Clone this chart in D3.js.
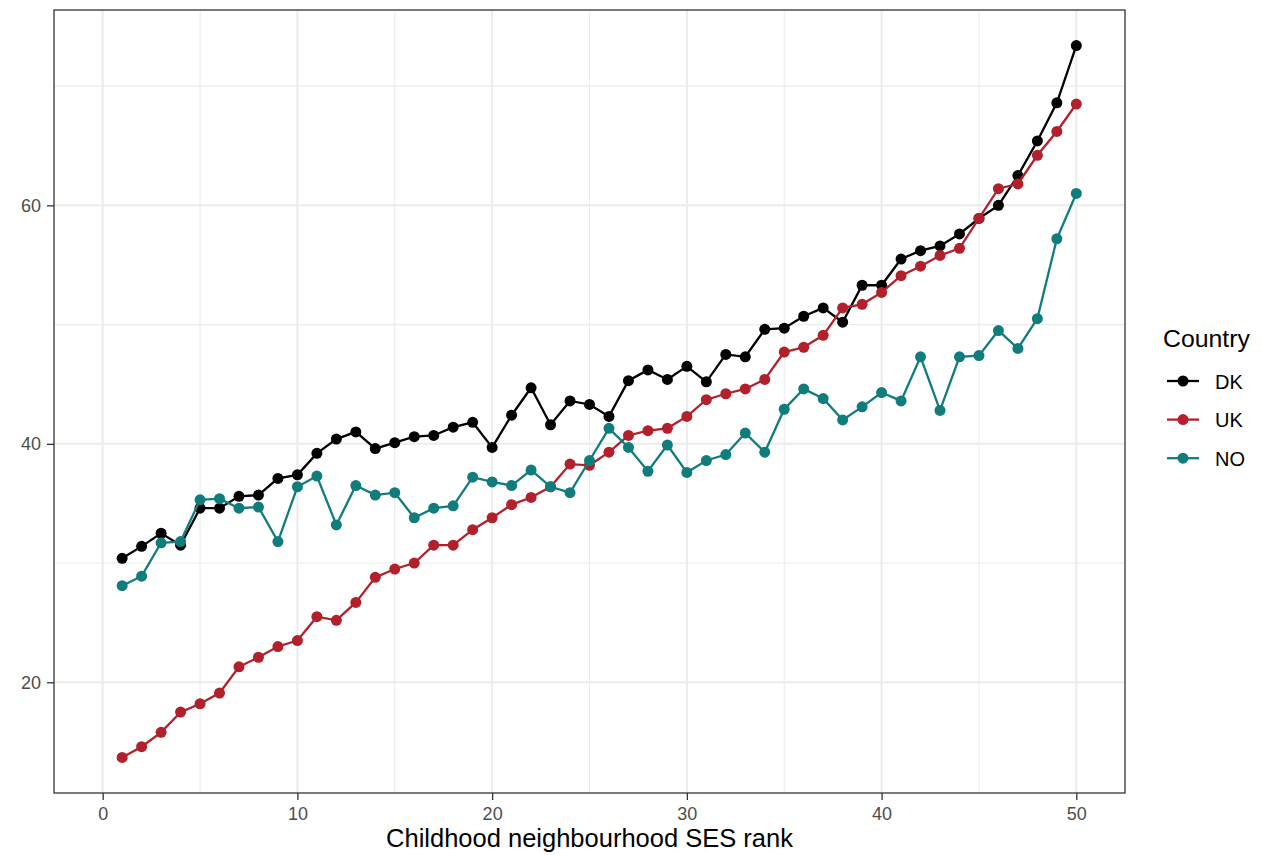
<!DOCTYPE html>
<html>
<head>
<meta charset="utf-8">
<script src="https://cdn.jsdelivr.net/npm/d3@7"></script>
<style>
  body { margin: 0; background: #fff; }
  text { font-family: "Liberation Sans", Arial, sans-serif; }
</style>
</head>
<body>
<div id="chart-area"></div>
<script>
// data
var ranks = d3.range(1, 51);
var dk = [30.4, 31.4, 32.5, 31.5, 34.6, 34.6, 35.6, 35.7, 37.1, 37.4,
          39.2, 40.4, 41.0, 39.6, 40.1, 40.6, 40.7, 41.4, 41.8, 39.7,
          42.4, 44.7, 41.6, 43.6, 43.3, 42.3, 45.3, 46.2, 45.4, 46.5,
          45.2, 47.5, 47.3, 49.6, 49.7, 50.7, 51.4, 50.2, 53.3, 53.3,
          55.5, 56.2, 56.6, 57.6, 58.9, 60.0, 62.5, 65.4, 68.6, 73.4];
var uk = [13.7, 14.6, 15.8, 17.5, 18.2, 19.1, 21.3, 22.1, 23.0, 23.5,
          25.5, 25.2, 26.7, 28.8, 29.5, 30.0, 31.5, 31.5, 32.8, 33.8,
          34.9, 35.5, 36.4, 38.3, 38.2, 39.3, 40.7, 41.1, 41.3, 42.3,
          43.7, 44.2, 44.6, 45.4, 47.7, 48.1, 49.1, 51.4, 51.7, 52.7,
          54.1, 54.9, 55.8, 56.4, 58.9, 61.4, 61.8, 64.2, 66.2, 68.5];
var no = [28.1, 28.9, 31.7, 31.8, 35.3, 35.4, 34.6, 34.7, 31.8, 36.4,
          37.3, 33.2, 36.5, 35.7, 35.9, 33.8, 34.6, 34.8, 37.2, 36.8,
          36.5, 37.8, 36.4, 35.9, 38.6, 41.3, 39.7, 37.7, 39.9, 37.6,
          38.6, 39.1, 40.9, 39.3, 42.9, 44.6, 43.8, 42.0, 43.1, 44.3,
          43.6, 47.3, 42.8, 47.3, 47.4, 49.5, 48.0, 50.5, 57.2, 61.0];
var countries = ["DK", "UK", "NO"];
var countryColors = ["#000000", "#B2212B", "#107C7C"];
var xTicks = [0, 10, 20, 30, 40, 50];
var yTicks = [20, 40, 60];

var series = [dk, uk, no];

var W = 1262, H = 855;
var panel = { left: 54, right: 1125, top: 10, bottom: 793 };

var svg = d3.select("#chart-area").append("svg")
    .attr("width", W)
    .attr("height", H);

// Scales (ggplot 5% expansion)
var x = d3.scaleLinear().domain([-2.5, 52.5]).range([panel.left, panel.right]);
var yMin = d3.min(series, function(s){ return d3.min(s); }),
    yMax = d3.max(series, function(s){ return d3.max(s); });
var pad = (yMax - yMin) * 0.05;
var y = d3.scaleLinear().domain([yMin - pad, yMax + pad]).range([panel.bottom, panel.top]);
var color = d3.scaleOrdinal().domain(countries).range(countryColors);

// Grid
var g = svg.append("g");
var xMinor = [5, 15, 25, 35, 45];
var yMinor = [30, 50, 70];
g.selectAll(".xminor").data(xMinor).enter().append("line")
    .attr("x1", x).attr("x2", x).attr("y1", panel.top).attr("y2", panel.bottom)
    .attr("stroke", "#EBEBEB").attr("stroke-width", 1.1);
g.selectAll(".yminor").data(yMinor).enter().append("line")
    .attr("y1", y).attr("y2", y).attr("x1", panel.left).attr("x2", panel.right)
    .attr("stroke", "#EBEBEB").attr("stroke-width", 1.1);
g.selectAll(".xmajor").data(xTicks).enter().append("line")
    .attr("x1", x).attr("x2", x).attr("y1", panel.top).attr("y2", panel.bottom)
    .attr("stroke", "#EBEBEB").attr("stroke-width", 2);
g.selectAll(".ymajor").data(yTicks).enter().append("line")
    .attr("y1", y).attr("y2", y).attr("x1", panel.left).attr("x2", panel.right)
    .attr("stroke", "#EBEBEB").attr("stroke-width", 2);

// Lines and points
var line = d3.line()
    .x(function(d, i){ return x(ranks[i]); })
    .y(function(d){ return y(d); });

series.forEach(function(s, k){
    svg.append("path")
        .datum(s)
        .attr("fill", "none")
        .attr("stroke", countryColors[k])
        .attr("stroke-width", 2.3)
        .attr("d", line);
    svg.selectAll(".pt" + k).data(s).enter().append("circle")
        .attr("cx", function(d, i){ return x(ranks[i]); })
        .attr("cy", function(d){ return y(d); })
        .attr("r", 5.5)
        .attr("fill", countryColors[k]);
});

// Panel border
svg.append("rect")
    .attr("x", panel.left).attr("y", panel.top)
    .attr("width", panel.right - panel.left)
    .attr("height", panel.bottom - panel.top)
    .attr("fill", "none")
    .attr("stroke", "#333333")
    .attr("stroke-width", 1.3);

// Axes
var xAxis = svg.append("g")
    .attr("transform", "translate(0," + panel.bottom + ")")
    .call(d3.axisBottom(x).tickValues(xTicks).tickSize(7).tickPadding(7));
var yAxis = svg.append("g")
    .attr("transform", "translate(" + panel.left + ",0)")
    .call(d3.axisLeft(y).tickValues(yTicks).tickSize(7).tickPadding(6));
[xAxis, yAxis].forEach(function(a){
    a.select(".domain").remove();
    a.selectAll(".tick line").attr("stroke", "#333333").attr("stroke-width", 1.3);
    a.selectAll(".tick text")
        .attr("fill", "#4D4D4D")
        .style("font-size", "18px")
        .style("font-family", "'Liberation Sans', Arial, sans-serif");
});

// Axis title
svg.append("text")
    .attr("x", (panel.left + panel.right) / 2)
    .attr("y", 847)
    .attr("text-anchor", "middle")
    .style("font-size", "25.5px")
    .text("Childhood neighbourhood SES rank");

// Legend
var legend = svg.append("g");
legend.append("text")
    .attr("x", 1163)
    .attr("y", 347)
    .style("font-size", "24.8px")
    .text("Country");
countries.forEach(function(c, i){
    var row = legend.append("g")
        .attr("transform", "translate(0," + (381 + i * 38.6) + ")");
    row.append("line")
        .attr("x1", 1167).attr("x2", 1199)
        .attr("stroke", color(c)).attr("stroke-width", 2.3);
    row.append("circle")
        .attr("cx", 1183).attr("r", 5.5).attr("fill", color(c));
    row.append("text")
        .attr("x", 1215)
        .attr("y", 7.5)
        .style("font-size", "20px")
        .text(c);
});
</script>
</body>
</html>
